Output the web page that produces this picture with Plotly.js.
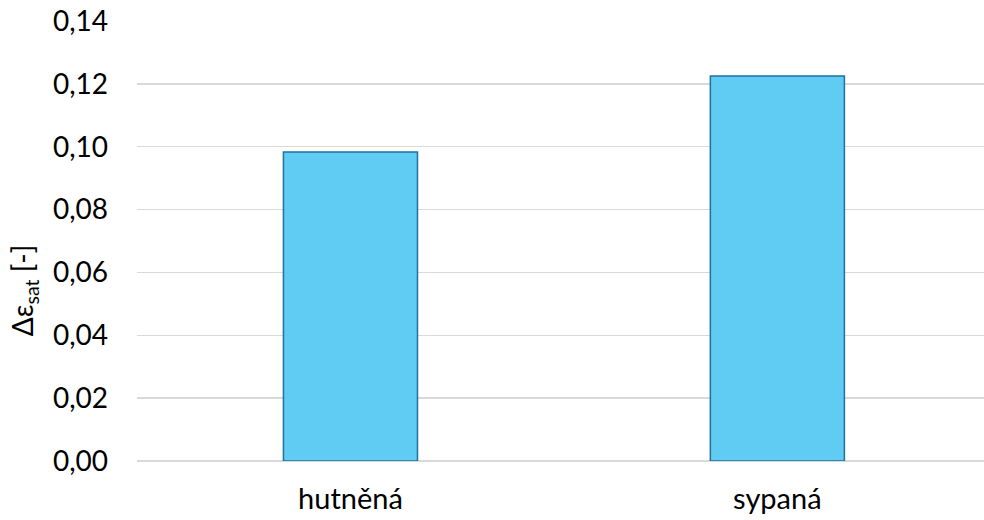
<!DOCTYPE html>
<html><head><meta charset="utf-8">
<script src="https://cdn.plot.ly/plotly-3.0.1.min.js"></script>
<style>body{margin:0;background:#fff}#c{width:984px;height:520px}</style>
</head><body><div id="c"></div>
<script>
const categories = ["hutněná", "sypaná"];
const values = [0.0983, 0.1225];
const yTicks = [0, 0.02, 0.04, 0.06, 0.08, 0.10, 0.12, 0.14];
const yTitle = 'Δε<sub>sat</sub> [-]';

Plotly.newPlot('c', [{
  type: 'bar', x: [0, 1], y: values,
  marker: {color: '#60CBF3', line: {color: '#1D72A0', width: 1.5}},
  width: 0.314, hoverinfo: 'skip'
}], {
  width: 984, height: 520,
  margin: {l: 137, r: 0, t: 21, b: 59},
  separators: ',.',
  paper_bgcolor: '#fff', plot_bgcolor: '#fff',
  font: {family: 'Lato, "Open Sans", sans-serif', size: 28, color: '#000'},
  showlegend: false,
  xaxis: {range: [-0.5, 1.484], tickvals: [0, 1], ticktext: categories, showgrid: false, zeroline: false, showline: false,
          ticks: '', tickfont: {size: 29}, ticklabelstandoff: 18, automargin: false},
  yaxis: {range: [0, 0.14], tickvals: yTicks, tickformat: '.2f', showgrid: true, gridcolor: '#D9D9D9', gridwidth: 1.3,
          zeroline: true, zerolinecolor: '#D9D9D9', zerolinewidth: 1.3, showline: false, ticks: '', ticklen: 0,
          tickfont: {size: 28}, automargin: false, ticklabelstandoff: 28},
  annotations: [{text: yTitle, textangle: -90, xref: 'paper', yref: 'paper', x: 0, y: 0.386,
                 xanchor: 'center', yanchor: 'middle', xshift: -113, showarrow: false, font: {size: 28}}]
}, {staticPlot: true});
</script></body></html>
